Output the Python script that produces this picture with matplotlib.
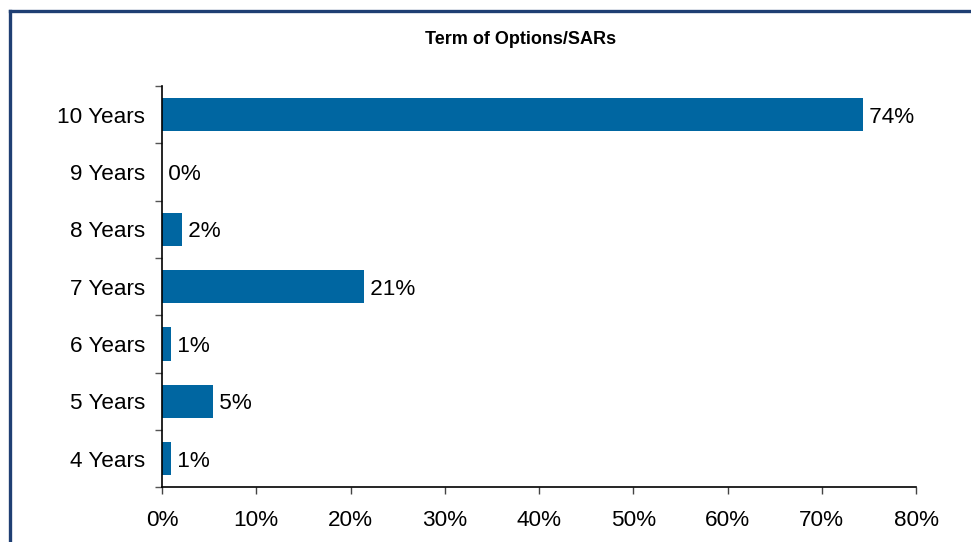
import matplotlib
matplotlib.use("Agg")
import matplotlib.pyplot as plt
from matplotlib.lines import Line2D
from matplotlib.ticker import FixedLocator, PercentFormatter

plt.rcParams['font.family'] = ['Liberation Sans', 'DejaVu Sans']

categories = ["4 Years", "5 Years", "6 Years", "7 Years", "8 Years", "9 Years", "10 Years"]
shares = [1.0, 5.4, 1.0, 21.4, 2.1, 0.0, 74.4]
x_ticks = [0, 10, 20, 30, 40, 50, 60, 70, 80]
title = "Term of Options/SARs"

bar_color = "#0066A1"
frame_color = "#1F3F73"
fs = 16.2

W, H = 971, 542
fig = plt.figure(figsize=(W / 100, H / 100), dpi=100)
fig.patch.set_facecolor("white")

ax = fig.add_axes([162 / W, 1 - 487.3 / H, (916 - 162) / W, (487.3 - 86) / H])

pos = list(range(len(categories)))
bars = ax.barh(pos, shares, height=0.58, color=bar_color, zorder=2)

for p, v in zip(pos, shares):
    ax.text(v, p, f" {v:.0f}%", va="center_baseline", ha="left", fontsize=fs,
            color="black")

ax.set_xlim(0, 80)
ax.set_ylim(-0.5, len(categories) - 0.5)

ax.xaxis.set_major_locator(FixedLocator(x_ticks))
ax.xaxis.set_major_formatter(PercentFormatter(decimals=0))
ax.tick_params(axis="x", direction="out", length=5, width=1, color="#444444",
               labelsize=fs, pad=11)

ax.set_yticks(pos)
ax.set_yticklabels(categories)
ax.tick_params(axis="y", which="major", length=0, labelsize=fs, pad=12)
for lbl in ax.get_yticklabels():
    lbl.set_verticalalignment("center_baseline")
ax.yaxis.set_minor_locator(FixedLocator([p - 0.5 for p in pos] + [len(pos) - 0.5]))
ax.tick_params(axis="y", which="minor", direction="out", length=5, width=1,
               color="#555555")

for side in ("top", "right"):
    ax.spines[side].set_visible(False)
for side in ("left", "bottom"):
    ax.spines[side].set_color("black")
    ax.spines[side].set_linewidth(1.2)

fig.text(521 / W, 1 - 40 / H, title, ha="center", va="center",
         fontsize=13, fontweight="bold")

# frame around the chart area (left and top edges)
fx, fy = 9.5 / W, 1 - 11 / H
fig.add_artist(Line2D([fx, fx], [-0.05, fy], transform=fig.transFigure,
                      color=frame_color, linewidth=2.4, solid_capstyle="projecting"))
fig.add_artist(Line2D([fx, 1.05], [fy, fy], transform=fig.transFigure,
                      color=frame_color, linewidth=2.4, solid_capstyle="projecting"))

fig.savefig("out.png", dpi=100, facecolor="white")
